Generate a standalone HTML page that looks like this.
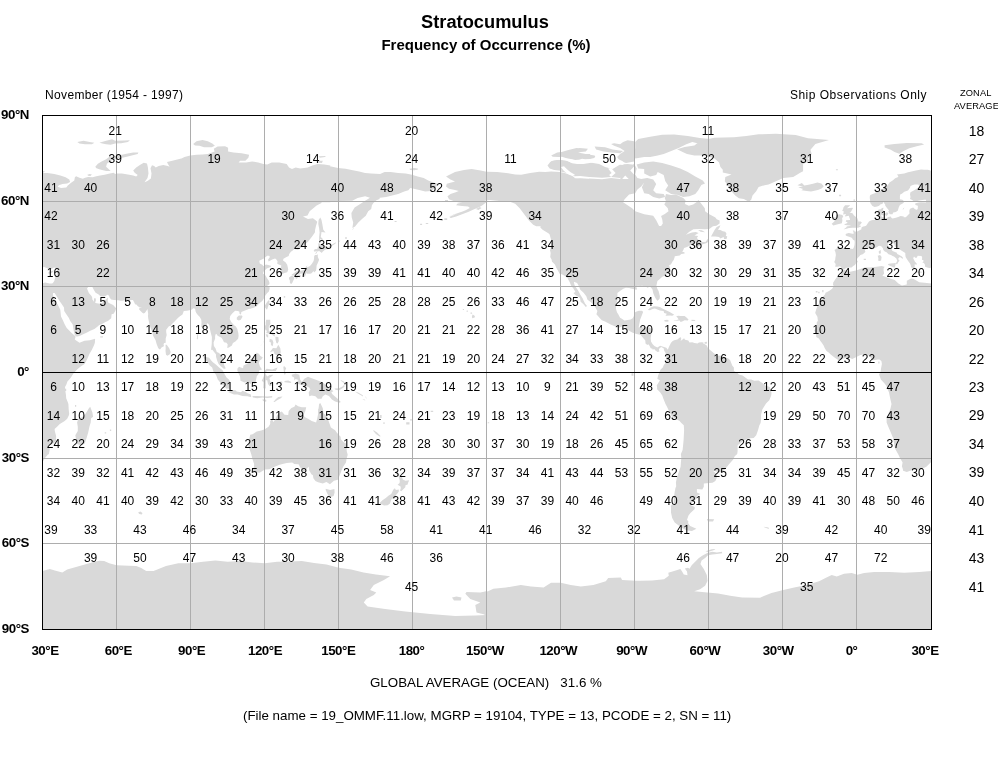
<!DOCTYPE html><html><head><meta charset="utf-8"><title>Stratocumulus</title><style>
html,body{margin:0;padding:0;background:#fff}
body{width:998px;height:760px;position:relative;overflow:hidden;font-family:"Liberation Sans",sans-serif;color:#000}
.t{position:absolute;white-space:nowrap;line-height:1}
.n{position:absolute;white-space:nowrap;line-height:12px;font-size:12px;width:40px;margin-left:-20px;text-align:center;height:12px}
.ax{position:absolute;white-space:nowrap;line-height:12px;font-size:13.3px;font-weight:bold;letter-spacing:-.45px}

</style></head><body>
<svg width="998" height="760" viewBox="0 0 998 760" style="position:absolute;left:0;top:0">
<defs><clipPath id="c"><rect x="42" y="115" width="890" height="515"/></clipPath></defs>
<g clip-path="url(#c)"><path id="land" fill="#d9d9d9" fill-rule="nonzero" d="M37.0 172.8 L43.0 172.8 L47.5 173.1 L54.3 174.0 L60.3 175.4 L65.6 177.3 L69.3 179.6 L70.1 181.9 L67.1 183.4 L62.5 184.1 L58.8 185.3 L57.7 186.8 L61.0 187.9 L66.3 187.4 L67.8 185.6 L70.8 182.9 L74.3 180.4 L74.9 177.3 L76.1 176.3 L79.4 177.8 L82.8 178.8 L85.1 177.8 L88.1 176.9 L92.6 177.2 L96.4 176.3 L100.1 175.5 L104.6 174.8 L109.9 173.6 L113.6 172.7 L115.2 173.9 L116.7 173.6 L121.9 173.6 L127.9 174.5 L133.2 175.4 L136.2 176.6 L137.7 175.1 L134.7 172.8 L133.2 170.6 L136.2 167.6 L139.9 164.9 L143.7 162.8 L147.0 163.4 L147.9 167.6 L148.5 173.6 L147.5 178.1 L144.5 182.3 L147.5 181.1 L150.9 178.4 L151.5 173.6 L150.5 168.3 L152.0 165.3 L154.2 166.1 L155.7 167.6 L158.7 166.1 L163.2 164.9 L167.8 166.1 L169.6 166.8 L167.8 163.8 L167.0 162.0 L172.3 160.8 L178.3 159.3 L184.3 157.8 L190.3 156.3 L190.3 244.2 L37.0 244.2Z M77.3 142.0 L83.6 140.8 L89.6 142.0 L94.4 142.8 L91.9 144.3 L85.1 144.3 L79.4 143.5Z M99.4 142.8 L106.1 140.8 L112.1 139.3 L115.2 140.8 L124.2 140.5 L129.9 140.2 L127.9 142.0 L121.2 143.2 L115.2 143.5 L110.6 144.7 L106.1 144.3 L102.4 143.5Z M95.3 166.8 L97.9 163.8 L101.6 161.6 L106.1 159.3 L109.1 157.1 L115.2 155.9 L121.9 154.8 L126.4 153.7 L133.2 152.5 L138.4 152.5 L137.7 154.0 L131.7 155.6 L125.7 157.1 L119.7 158.3 L113.6 159.3 L110.6 160.8 L106.9 163.8 L106.1 166.8 L109.1 169.4 L110.6 170.9 L106.1 170.9 L100.1 169.4 L96.4 168.3Z M87.3 174.8 L89.6 173.9 L91.9 174.6 L90.4 176.0 L88.1 175.8Z M178.5 160.1 L184.5 157.1 L190.2 155.6 L196.5 154.8 L202.5 154.5 L207.8 154.1 L214.6 151.4 L213.8 148.8 L217.6 146.6 L225.1 146.3 L228.1 147.8 L228.1 151.4 L233.4 152.6 L241.6 153.3 L249.1 154.8 L248.4 157.8 L245.4 160.8 L240.1 160.8 L238.6 162.4 L246.1 162.4 L252.1 161.6 L258.2 162.4 L263.4 163.9 L267.2 164.6 L271.7 162.4 L279.2 162.4 L286.7 163.9 L289.0 167.6 L292.0 169.1 L295.7 167.6 L300.2 168.4 L307.8 167.6 L312.3 165.4 L317.5 163.9 L324.3 164.6 L330.3 165.4 L330.3 202.2 L178.5 202.2Z M193.2 143.9 L196.5 141.3 L202.5 140.1 L207.8 141.3 L212.3 143.6 L214.9 145.8 L211.6 147.3 L204.0 147.3 L199.5 145.8 L195.0 145.4Z M319.0 156.3 L325.8 155.9 L325.0 157.1 L319.8 157.8Z M318.3 160.8 L322.8 160.8 L322.0 163.1 L317.5 162.8Z M318.5 164.6 L329.0 166.1 L338.0 167.9 L345.6 168.8 L351.6 169.9 L359.1 171.4 L365.1 172.9 L371.1 173.6 L380.1 173.9 L384.6 172.1 L390.6 172.1 L398.2 172.9 L405.7 173.6 L412.0 174.8 L417.7 176.6 L423.7 178.1 L428.2 180.4 L432.7 182.3 L438.0 184.1 L435.7 187.2 L431.2 190.9 L425.2 191.4 L419.2 189.9 L413.9 188.7 L410.2 187.9 L408.4 190.2 L404.2 191.4 L398.2 193.9 L392.1 195.4 L386.1 196.9 L380.1 197.7 L376.4 196.9 L374.1 199.2 L371.9 199.9 L370.8 198.0 L365.1 196.2 L357.6 198.0 L352.3 200.7 L339.5 201.0 L329.0 201.0 L318.5 201.0Z M409.4 168.8 L414.7 167.9 L418.4 168.8 L414.7 170.3 L410.2 170.0Z M446.0 176.6 L455.0 172.1 L464.0 169.9 L471.6 169.1 L480.6 170.6 L486.6 171.8 L497.1 172.1 L506.1 172.9 L515.2 174.4 L521.2 174.8 L530.2 172.9 L539.2 171.8 L545.2 172.1 L551.2 171.4 L560.2 172.1 L566.3 173.6 L572.3 175.9 L575.3 178.1 L582.8 178.9 L590.3 178.9 L590.3 226.2 L536.2 226.2 L533.2 224.7 L528.7 220.2 L524.2 214.2 L519.7 208.2 L515.2 203.7 L510.6 201.9 L503.1 201.4 L497.1 200.7 L489.6 199.9 L485.1 200.4 L482.8 202.2 L479.4 204.9 L473.1 207.4 L465.6 210.4 L456.5 213.9 L449.0 216.5 L454.3 214.2 L462.5 211.5 L470.1 208.5 L476.1 205.2 L472.3 204.0 L467.1 203.7 L462.5 202.9 L458.0 202.2 L453.5 201.0 L449.0 199.2 L447.5 196.2 L450.5 193.9 L455.0 192.4 L458.8 190.9 L455.0 189.9 L449.0 188.7 L446.0 186.4 L446.8 183.8 L451.3 182.6 L455.0 181.4 L450.5 179.6Z M547.5 165.4 L551.2 160.8 L558.7 159.8 L566.3 160.4 L570.8 162.4 L575.3 162.8 L582.8 163.9 L590.3 163.1 L590.3 176.9 L575.3 176.9 L572.3 174.4 L569.3 170.9 L563.2 170.9 L554.2 169.9 L549.7 168.4Z M551.2 155.6 L557.2 152.6 L564.7 151.4 L572.3 149.6 L579.8 148.1 L588.0 148.8 L585.8 151.4 L578.3 152.3 L575.3 154.1 L582.8 154.8 L590.3 154.1 L590.3 159.3 L582.8 159.8 L575.3 160.1 L569.3 157.8 L564.7 157.1 L558.7 157.1 L552.7 156.8Z M558.5 178.9 L569.0 179.3 L575.0 178.1 L588.6 178.4 L602.1 179.3 L611.1 178.1 L620.1 178.9 L622.4 175.1 L620.1 171.4 L624.6 168.4 L629.9 165.4 L634.2 163.9 L636.7 168.4 L635.2 174.4 L637.4 178.1 L641.2 178.9 L644.2 182.6 L641.2 186.4 L637.4 189.4 L635.2 193.2 L629.1 194.4 L624.6 199.2 L623.1 202.2 L627.6 205.2 L632.1 208.2 L635.2 211.2 L644.2 214.2 L653.2 215.7 L656.2 220.2 L659.2 226.2 L558.5 226.2Z M635.2 142.1 L638.2 139.1 L650.2 136.8 L662.2 134.8 L674.2 134.5 L687.8 136.0 L699.8 137.9 L710.3 139.1 L710.3 144.3 L701.3 144.3 L692.3 142.1 L686.3 144.3 L678.7 148.1 L671.2 151.1 L663.7 154.1 L657.7 155.6 L650.2 157.1 L644.2 157.1 L635.2 158.6 L634.2 154.1 L635.2 148.1Z M623.1 142.1 L627.6 140.3 L634.2 141.3 L634.2 161.6 L626.1 163.1 L620.1 161.6 L617.1 157.1 L620.1 154.1 L624.6 151.1 L620.1 148.1 L614.1 145.8 L611.1 143.9 L614.1 143.3 L620.1 144.3Z M560.0 152.6 L567.5 150.3 L576.5 148.1 L585.6 148.8 L584.0 151.4 L578.0 152.6 L585.6 154.1 L594.6 155.6 L596.1 158.6 L590.1 160.1 L581.0 159.3 L573.5 160.1 L566.0 158.6 L560.0 157.1Z M594.6 146.6 L605.1 147.3 L612.6 149.6 L623.1 151.1 L620.1 153.3 L611.1 152.6 L603.6 151.4 L596.1 149.6Z M560.0 161.6 L569.0 163.1 L578.0 163.9 L590.1 162.4 L599.1 163.9 L605.1 166.9 L612.6 169.1 L620.1 164.6 L627.6 163.9 L632.1 164.6 L630.6 172.1 L624.6 175.1 L620.1 178.1 L611.1 176.9 L602.1 177.8 L590.1 176.9 L588.6 175.9 L575.0 175.9 L569.0 173.6 L563.0 172.1 L560.0 171.4Z M636.7 164.6 L644.2 162.4 L653.2 161.6 L662.2 163.1 L671.2 165.4 L680.2 168.4 L687.8 172.1 L695.3 176.6 L702.8 180.4 L705.0 183.4 L701.3 184.9 L698.3 190.2 L695.3 193.9 L689.3 196.2 L683.2 196.9 L677.2 194.7 L671.2 193.9 L665.2 190.2 L668.2 185.6 L665.2 181.1 L663.7 175.1 L657.7 172.1 L656.2 175.1 L650.2 176.6 L644.2 173.6 L644.2 169.1 L638.2 168.4Z M641.2 178.9 L647.2 178.1 L653.2 179.6 L656.2 184.1 L653.2 190.2 L656.2 193.2 L663.7 193.9 L665.2 196.9 L659.2 198.4 L653.2 196.9 L648.7 193.9 L644.2 193.2 L641.9 187.2 L644.2 182.6Z M487.6 201.9 L485.4 202.9 L482.4 205.3 L479.4 207.1 L474.1 209.2 L468.1 211.9 L462.1 214.3 L456.1 216.4 L450.8 217.9 L449.3 217.0 L453.1 215.5 L459.1 213.1 L465.1 210.4 L469.9 208.0 L468.1 206.5 L462.1 205.9 L456.1 205.3 L457.6 203.5 L463.6 202.6 L469.6 202.3 L475.6 202.3 L483.1 201.6 L486.9 200.4Z M42.5 195.5 L321.5 195.5 L321.5 202.9 L316.6 205.4 L309.7 211.2 L307.5 215.4 L303.0 216.6 L308.0 218.9 L312.9 218.3 L315.9 220.6 L317.3 221.7 L316.1 225.4 L315.1 229.7 L314.9 232.6 L311.7 236.9 L308.0 241.7 L303.0 246.0 L298.1 249.7 L294.4 249.1 L292.7 250.6 L290.9 251.7 L289.2 254.0 L288.7 256.0 L286.5 256.9 L283.5 258.8 L283.0 260.6 L285.5 262.3 L287.2 264.8 L288.0 268.3 L288.2 269.7 L287.2 272.3 L284.5 273.1 L280.8 274.6 L280.3 273.1 L280.8 270.3 L280.8 267.7 L281.3 265.4 L278.8 264.6 L277.1 263.4 L277.6 261.4 L276.4 259.4 L275.1 258.6 L272.2 259.4 L268.7 261.4 L268.0 259.7 L269.9 256.9 L269.2 255.7 L267.2 255.7 L263.8 258.6 L259.3 260.8 L259.8 263.4 L262.3 264.8 L263.5 266.3 L266.0 264.6 L268.2 265.1 L270.9 265.7 L270.7 267.1 L266.7 268.6 L265.5 269.7 L263.5 271.7 L263.0 273.4 L265.5 275.4 L267.0 278.3 L268.7 280.6 L269.4 282.6 L269.4 284.3 L267.2 285.7 L268.7 286.8 L269.7 287.4 L269.4 289.7 L268.7 291.7 L267.2 293.1 L265.2 295.7 L264.0 298.3 L262.3 301.1 L260.3 302.5 L257.3 305.4 L256.1 306.8 L253.6 307.7 L250.4 308.8 L248.7 309.1 L245.0 310.5 L242.5 311.4 L241.3 312.0 L241.0 314.5 L239.6 314.0 L239.3 311.4 L237.6 311.1 L235.1 310.8 L232.2 313.4 L230.2 316.0 L229.7 319.1 L231.4 322.2 L234.4 325.4 L235.9 326.5 L237.3 329.1 L238.3 333.1 L238.6 335.9 L238.1 338.8 L235.4 341.4 L232.9 343.1 L231.9 345.4 L228.9 347.4 L227.2 347.9 L227.7 344.5 L226.5 342.8 L224.0 342.2 L222.8 339.7 L221.5 337.7 L219.1 336.5 L217.6 335.7 L216.6 334.0 L215.4 334.5 L215.1 336.8 L215.1 338.8 L213.6 342.5 L213.9 345.9 L215.6 348.5 L216.8 351.9 L218.6 352.8 L221.0 354.8 L223.3 357.4 L223.8 361.6 L224.0 364.8 L225.7 368.2 L225.0 368.8 L223.8 368.8 L220.8 366.2 L218.6 363.9 L217.3 361.1 L216.1 357.1 L215.9 354.2 L213.9 351.7 L212.4 349.7 L211.2 349.9 L211.2 348.2 L211.7 344.2 L211.9 337.1 L210.7 332.5 L209.9 329.1 L209.4 325.4 L207.7 323.1 L206.2 325.4 L203.8 327.4 L201.3 327.1 L201.5 322.5 L201.3 319.7 L199.8 317.1 L197.8 315.1 L196.3 313.1 L195.6 311.4 L195.1 308.8 L193.1 308.2 L192.1 309.4 L189.4 310.2 L187.0 310.8 L183.8 311.1 L182.5 314.5 L180.3 316.0 L178.1 317.7 L174.1 322.0 L171.7 324.2 L170.9 325.7 L168.9 326.2 L167.9 327.4 L166.2 329.7 L166.2 332.0 L166.7 335.1 L165.7 338.5 L165.7 341.7 L165.5 343.1 L164.0 343.1 L163.5 345.1 L164.2 345.9 L161.5 347.4 L160.5 349.1 L159.8 349.4 L158.3 348.2 L156.6 343.9 L155.6 340.2 L153.1 335.7 L152.1 331.7 L150.7 328.2 L149.4 324.0 L148.2 318.2 L147.9 315.4 L148.2 314.2 L147.9 312.2 L147.5 309.1 L146.7 310.2 L145.0 312.8 L143.7 313.4 L142.3 312.8 L140.3 310.8 L138.8 309.1 L139.5 308.2 L142.0 307.1 L139.8 307.4 L137.6 306.0 L136.8 304.8 L135.1 304.3 L133.9 301.7 L132.9 300.0 L128.9 300.3 L125.2 300.3 L122.3 300.8 L120.8 300.8 L118.1 300.3 L114.1 300.0 L111.2 299.4 L109.7 297.7 L108.9 295.4 L107.4 294.8 L105.5 296.0 L104.0 296.5 L100.5 296.3 L98.3 294.3 L95.6 292.8 L93.9 290.0 L92.4 287.1 L90.7 286.5 L89.4 285.7 L88.2 287.1 L87.0 288.5 L87.9 290.8 L88.9 293.1 L91.1 295.4 L92.1 297.1 L92.4 299.4 L93.9 301.7 L93.9 299.7 L94.4 298.0 L95.8 298.5 L95.8 301.1 L95.1 302.3 L95.6 303.1 L98.1 303.4 L100.5 303.7 L102.8 302.5 L105.0 300.3 L106.7 298.8 L107.4 297.4 L107.9 298.3 L107.7 301.1 L108.4 302.8 L113.1 305.1 L116.1 308.2 L115.3 311.1 L113.6 313.7 L111.6 314.2 L111.2 318.2 L107.9 321.1 L105.5 322.0 L102.0 324.0 L99.3 325.1 L97.3 326.8 L94.4 329.1 L89.7 331.1 L87.0 332.5 L83.2 334.2 L79.5 335.9 L77.1 336.5 L75.8 336.2 L74.6 334.5 L73.6 330.2 L73.1 326.8 L72.6 324.2 L70.2 321.1 L68.9 318.0 L66.5 314.5 L64.2 311.1 L64.0 307.4 L61.5 303.7 L59.5 301.1 L57.6 297.7 L55.3 294.0 L54.1 292.3 L52.9 290.8 L51.1 286.8 L47.9 283.1 L49.9 283.7 L51.9 283.7 L53.1 282.8 L54.4 280.8 L54.8 278.8 L56.1 275.7 L56.8 274.0 L56.8 271.1 L57.8 268.0 L56.1 268.0 L53.9 267.4 L51.6 269.1 L49.4 269.7 L47.4 268.3 L44.2 267.1 L40.3 268.0 L38.3 267.4 L36.1 266.8 L35.8 264.3 L34.6 262.8 L33.4 263.1 L34.6 261.1 L34.4 260.3 L32.9 259.7 L33.1 258.3 L33.1 257.1 L32.4 256.0 L28.7 255.7 L27.7 257.7 L26.2 257.7 L25.0 256.6 L24.2 258.3 L25.2 260.3 L26.0 261.7 L27.7 263.4 L27.7 264.8 L25.7 264.3 L25.7 265.7 L25.5 268.3 L24.0 268.3 L22.7 267.4 L22.0 267.4 L21.8 265.4 L21.0 263.4 L19.5 261.4 L18.3 259.7 L16.6 256.9 L16.3 254.6 L16.3 252.9 L13.1 250.9 L8.9 248.3 L6.0 246.6 L5.2 244.0 L4.0 243.1 L2.5 244.3 L2.0 242.6 L2.5 242.0 L-1.2 242.9 L-1.0 244.3 L-1.2 245.7 L-0.5 246.6 L1.8 248.0 L3.5 251.1 L8.4 252.9 L7.7 253.7 L10.2 255.1 L12.9 256.6 L14.1 258.0 L13.9 258.8 L12.9 258.3 L10.9 256.9 L9.4 258.3 L9.4 259.4 L10.6 260.8 L9.4 262.0 L8.2 264.3 L6.9 264.0 L7.4 262.3 L8.2 261.1 L7.4 258.6 L5.0 256.6 L3.5 256.0 L2.0 254.9 L-0.5 254.3 L-2.4 252.3 L-4.2 251.4 L-5.7 250.0 L-6.1 248.3 L-7.4 246.6 L-9.6 245.7 L-10.6 246.0 L-11.8 247.1 L-13.6 247.7 L-17.0 249.4 L-18.2 248.9 L-20.5 248.6 L-22.0 248.3 L-23.9 249.7 L-24.2 250.9 L-23.4 251.7 L-26.2 254.3 L-28.6 255.1 L-29.6 256.3 L-31.6 258.3 L-32.3 259.7 L-31.1 262.0 L-32.8 263.1 L-34.1 265.1 L-35.8 266.0 L-37.5 267.4 L-42.4 267.7 L-44.9 269.4 L-45.4 269.7 L-47.1 268.3 L-48.9 266.3 L-51.1 266.8 L-53.8 266.8 L-53.3 264.0 L-54.8 262.0 L-53.8 259.7 L-53.6 257.7 L-53.1 254.9 L-53.6 252.0 L-54.5 250.0 L-52.3 248.6 L-51.1 247.4 L-45.7 248.0 L-41.0 248.3 L-39.0 248.6 L-36.5 248.9 L-35.5 248.3 L-34.5 245.1 L-34.3 242.3 L-34.5 240.6 L-36.0 239.7 L-37.0 238.0 L-37.8 237.4 L-39.2 236.9 L-42.2 236.0 L-43.2 235.4 L-43.4 234.3 L-42.9 233.7 L-40.2 233.1 L-36.5 233.7 L-35.3 233.7 L-35.5 232.0 L-36.3 230.6 L-34.8 230.6 L-34.3 231.4 L-32.3 231.7 L-31.3 231.2 L-28.9 230.0 L-27.6 229.2 L-27.6 227.7 L-26.9 226.9 L-25.7 226.6 L-24.4 226.3 L-22.9 225.7 L-22.0 224.6 L-21.7 224.0 L-20.0 221.4 L-18.2 220.6 L-16.3 220.0 L-14.3 220.0 L-11.8 219.4 L-10.6 219.4 L-10.1 218.6 L-9.6 218.0 L-10.3 217.2 L-10.3 215.7 L-10.8 214.0 L-11.6 212.6 L-11.6 210.9 L-10.3 209.4 L-8.1 209.2 L-7.1 208.0 L-5.4 207.7 L-5.7 208.6 L-6.1 210.0 L-4.7 211.4 L-6.4 212.3 L-7.1 214.3 L-7.9 216.0 L-6.4 217.2 L-4.4 217.2 L-4.7 218.6 L-3.4 218.3 L-1.7 217.7 L-0.7 216.9 L1.8 216.6 L2.5 218.0 L3.7 218.6 L6.9 217.7 L9.2 216.9 L11.6 216.0 L14.8 216.6 L14.6 217.2 L16.8 217.2 L17.8 216.3 L20.5 213.4 L20.3 211.2 L20.5 209.7 L21.5 208.6 L24.2 207.4 L25.7 208.9 L27.2 209.7 L27.9 209.7 L28.7 208.9 L28.9 205.7 L26.4 204.9 L26.2 203.5 L27.7 202.9 L29.7 202.6 L32.1 202.3 L37.6 202.6 L38.5 202.0 L42.5 201.5 L39.3 199.2 L35.1 199.7 L30.2 200.6 L25.2 201.7 L23.2 200.0 L21.0 198.9 L21.5 196.9 L21.0 194.3 L21.5 192.3 L25.2 190.3 L28.9 187.7 L31.1 186.9 L29.2 184.6 L27.9 184.6 L25.5 184.6 L23.2 185.2 L21.5 186.0 L21.0 187.7 L19.0 190.6 L15.3 191.7 L12.9 193.7 L11.4 194.3 L10.9 196.3 L10.9 199.2 L13.4 199.7 L15.1 201.2 L15.1 202.0 L14.1 203.2 L10.9 204.9 L9.7 207.4 L8.9 210.6 L6.9 212.0 L4.2 212.6 L3.5 214.3 L2.5 214.3 L1.0 214.3 L0.5 213.7 L-0.2 212.6 L-0.7 211.7 L0.0 210.6 L-2.2 207.7 L-3.7 205.7 L-3.9 204.3 L-4.7 203.5 L-5.2 201.5 L-5.9 202.9 L-6.9 204.0 L-8.4 204.3 L-9.9 205.7 L-11.8 206.6 L-14.3 206.9 L-15.5 206.6 L-16.8 205.7 L-17.8 204.3 L-18.7 202.9 L-19.0 200.0 L-19.2 198.3 L-19.2 196.6 L-18.7 194.9 L-16.3 194.0 L-14.3 193.2 L-12.6 192.3 L-10.6 191.5 L-8.1 190.6 L-5.7 188.6 L-3.9 187.2 L-1.5 185.5 L-0.5 184.0 L0.5 182.6 L4.0 180.3 L6.2 178.3 L9.2 176.9 L9.2 176.0 L7.9 174.6 L11.6 174.0 L15.3 173.5 L19.0 172.3 L21.5 171.8 L26.9 170.6 L32.1 169.5 L35.1 169.8 L38.8 169.8 L45.0 171.5 L42.5 173.2 L45.0 173.5 L45.0 195.5Z M55.8 283.4 L55.8 292.5 L53.1 293.1 L52.9 294.8 L54.1 298.3 L55.6 302.5 L57.6 304.3 L60.3 309.7 L61.0 316.5 L63.0 320.5 L64.5 324.0 L66.7 328.0 L69.2 330.5 L71.6 333.1 L74.6 335.4 L75.6 336.8 L74.8 339.4 L75.8 340.2 L79.5 342.8 L84.5 340.8 L89.9 340.2 L95.1 338.8 L94.9 342.8 L93.9 345.4 L91.9 349.7 L89.4 353.9 L87.0 359.6 L84.5 363.9 L80.3 366.8 L77.1 369.6 L73.4 373.6 L70.9 377.4 L69.7 379.1 L67.4 381.6 L66.5 384.2 L65.0 387.1 L65.5 391.9 L66.0 395.3 L66.2 398.2 L67.7 401.9 L68.4 403.9 L68.7 409.6 L69.2 413.9 L68.9 415.3 L67.2 418.8 L64.7 421.0 L59.8 423.9 L57.3 426.5 L54.6 429.0 L54.8 431.0 L55.6 433.9 L56.1 435.9 L56.1 439.6 L56.1 441.0 L53.6 443.3 L49.9 444.7 L48.9 446.7 L49.7 449.6 L48.9 453.9 L47.7 454.7 L45.0 457.9 L43.2 461.0 L37.3 466.7 L31.6 469.6 L27.7 469.9 L23.2 469.9 L17.8 471.9 L14.1 470.7 L13.9 469.3 L12.9 466.2 L13.6 462.4 L11.1 458.2 L9.2 454.2 L6.0 448.5 L5.2 443.9 L4.2 438.2 L1.8 432.5 L-0.7 426.8 L-2.4 422.5 L-2.4 418.2 L-1.5 415.9 L1.5 408.5 L2.5 403.9 L1.0 397.6 L0.0 392.5 L-1.2 389.6 L-1.5 388.2 L-2.4 386.2 L-4.4 383.4 L-8.1 379.6 L-9.9 374.5 L-8.4 371.4 L-7.9 368.2 L-7.4 365.4 L-7.1 363.9 L-7.6 361.1 L-9.6 359.6 L-11.1 359.6 L-14.3 359.9 L-16.8 360.2 L-18.2 357.7 L-19.2 355.9 L-23.2 354.2 L-25.7 354.5 L-28.6 355.1 L-32.1 356.8 L-36.8 359.1 L-39.0 357.9 L-41.5 357.7 L-46.4 358.8 L-50.6 359.9 L-53.8 357.9 L-58.3 354.5 L-60.0 352.8 L-62.5 351.1 L-64.2 348.2 L-65.4 345.4 L-67.4 342.5 L-68.6 341.1 L-70.1 338.5 L-72.8 337.1 L-72.8 334.0 L-74.8 330.5 L-72.3 326.8 L-72.3 322.5 L-71.1 320.8 L-71.6 316.8 L-73.8 313.1 L-73.3 311.1 L-71.1 304.8 L-68.6 301.7 L-67.4 298.0 L-64.2 294.8 L-63.4 292.8 L-60.0 291.1 L-56.8 288.8 L-55.3 285.7 L-56.0 285.1 L-55.8 282.6 L-54.3 280.3 L-52.6 277.7 L-50.4 276.6 L-48.4 275.4 L-46.9 272.6 L-46.2 270.3 L-44.7 270.0 L-39.0 271.7 L-33.1 270.6 L-24.2 267.4 L-19.2 267.4 L-12.3 266.8 L-7.4 266.0 L-4.4 266.8 L-5.4 268.6 L-5.4 270.3 L-4.9 273.4 L-6.6 275.7 L-4.4 276.6 L1.0 278.6 L5.7 280.0 L9.4 283.4 L12.9 285.4 L17.8 284.5 L17.8 280.8 L22.0 278.6 L24.2 278.8 L27.7 280.8 L30.2 282.3 L35.6 282.8 L42.3 283.4 L45.0 282.6 L49.4 283.4Z M90.2 406.8 L92.4 412.5 L93.1 416.8 L91.1 418.2 L90.7 422.5 L89.4 426.8 L88.2 432.5 L86.5 438.2 L84.7 443.6 L80.8 445.3 L77.1 443.9 L76.1 439.6 L75.3 435.3 L77.8 431.0 L77.8 426.8 L77.1 422.5 L78.3 418.8 L82.0 417.3 L84.5 415.3 L87.0 411.6 L88.9 408.2Z M-45.2 229.2 L-43.9 228.3 L-42.7 227.4 L-42.7 226.9 L-41.7 226.3 L-39.0 226.0 L-38.3 225.2 L-39.5 225.4 L-41.5 225.2 L-44.2 224.9 L-44.7 224.3 L-43.2 223.7 L-41.7 222.9 L-41.7 222.0 L-43.2 221.7 L-42.9 220.3 L-39.0 220.0 L-39.0 218.9 L-39.5 218.0 L-40.2 215.7 L-41.5 216.0 L-43.7 216.6 L-43.9 215.7 L-42.9 214.0 L-45.9 214.6 L-45.2 211.4 L-46.9 210.6 L-45.7 208.9 L-45.9 208.0 L-44.7 206.3 L-43.9 205.2 L-39.0 205.2 L-39.2 205.7 L-41.0 207.2 L-42.0 208.3 L-36.5 207.7 L-36.0 208.3 L-36.8 209.4 L-38.0 211.7 L-39.5 212.6 L-36.5 213.2 L-35.0 215.4 L-33.1 216.9 L-31.8 218.0 L-31.3 219.4 L-30.8 220.6 L-30.8 221.4 L-28.4 221.4 L-27.1 222.6 L-28.4 224.3 L-29.9 225.4 L-28.1 225.7 L-28.1 226.6 L-30.8 227.7 L-33.6 227.7 L-36.3 227.7 L-40.0 228.0 L-41.7 228.6 L-45.7 229.4Z M-49.9 214.3 L-46.6 214.9 L-45.7 216.6 L-46.9 218.3 L-46.6 220.3 L-47.1 223.2 L-52.1 224.6 L-55.8 225.4 L-57.3 223.7 L-55.5 222.3 L-53.8 220.6 L-56.8 219.7 L-56.3 217.4 L-52.8 217.4 L-53.1 216.3 L-52.1 214.9Z M-91.6 185.2 L-87.1 182.9 L-84.7 185.5 L-81.7 184.9 L-76.0 183.7 L-71.6 182.6 L-67.6 183.5 L-65.2 186.3 L-67.4 188.6 L-71.1 190.0 L-78.0 191.5 L-82.2 190.9 L-87.6 190.3 L-85.9 188.9 L-90.8 187.2 L-85.9 186.6Z M-3.9 213.4 L-2.0 212.3 L-0.5 213.4 L-1.5 214.9 L-2.4 216.0 L-3.9 214.9Z M-7.4 214.0 L-5.2 214.0 L-4.9 215.2 L-6.6 215.2Z M-1.0 264.0 L1.3 263.4 L6.9 263.1 L6.0 266.8 L5.5 267.7 L3.7 267.1 L-0.7 265.1Z M-11.3 255.7 L-8.9 254.9 L-7.4 256.9 L-7.9 260.6 L-9.4 261.1 L-10.8 260.8 L-10.6 258.3Z M-10.3 251.4 L-8.4 249.7 L-8.1 252.6 L-8.9 254.3 L-10.1 253.1Z M26.4 270.8 L28.9 271.4 L33.4 271.7 L33.1 272.6 L29.4 272.8 L26.4 272.0Z M48.2 272.6 L49.9 271.4 L53.9 270.6 L52.4 272.6 L49.9 273.7 L48.4 273.4Z M-4.4 145.2 L5.5 144.1 L17.8 142.9 L32.6 143.2 L35.1 144.6 L27.7 146.3 L20.3 148.3 L14.1 151.2 L10.4 153.8 L5.5 152.1 L1.8 149.8 L-4.4 147.5Z M320.3 217.4 L321.5 220.0 L322.3 224.0 L323.3 229.7 L325.5 232.6 L321.5 232.0 L320.8 236.9 L322.8 238.9 L322.5 240.6 L320.6 239.1 L319.1 241.1 L319.1 236.9 L319.6 232.6 L319.1 228.3 L318.3 224.0 L318.6 220.0Z M314.9 254.0 L317.1 253.1 L316.4 251.1 L314.9 251.7 L313.6 250.9 L314.9 248.9 L317.3 248.9 L318.3 245.4 L318.3 242.9 L320.3 244.0 L323.5 246.3 L327.2 246.0 L327.0 248.3 L328.5 248.9 L325.0 249.7 L322.3 252.0 L322.0 252.9 L319.1 251.1 L316.6 251.7Z M317.8 254.3 L317.8 256.9 L319.1 259.7 L317.8 263.1 L316.6 265.4 L316.4 268.3 L316.1 270.6 L314.1 272.6 L313.6 271.1 L312.2 272.6 L311.2 273.4 L309.7 273.7 L306.7 273.7 L306.5 272.6 L305.7 274.6 L305.0 276.6 L303.8 276.8 L302.0 274.8 L302.5 273.4 L299.3 273.7 L296.9 274.6 L295.1 275.4 L291.9 275.4 L291.7 274.6 L293.1 273.7 L296.1 271.4 L297.6 270.8 L300.1 270.8 L302.5 270.6 L304.3 269.7 L306.0 266.8 L307.5 265.4 L306.7 267.4 L309.7 266.3 L311.7 264.0 L313.6 261.1 L314.1 258.3 L314.1 256.6 L314.9 254.9 L316.6 254.9Z M295.6 275.4 L299.3 274.3 L301.1 276.0 L299.8 277.4 L298.1 276.8 L296.9 279.1 L295.4 278.3 L295.1 276.8Z M291.7 275.7 L293.6 276.6 L294.4 278.3 L293.1 281.1 L292.2 283.1 L291.2 284.0 L289.9 283.1 L289.9 280.6 L289.0 279.1 L289.0 277.4 L290.4 276.6Z M268.5 300.3 L269.7 301.1 L268.5 305.4 L267.0 309.7 L265.2 307.7 L265.0 305.4 L266.7 302.5Z M236.8 317.4 L238.8 315.4 L242.0 315.4 L242.5 316.8 L240.8 319.7 L238.8 320.5 L236.8 319.4Z M165.5 344.8 L166.7 344.8 L169.2 348.2 L170.7 351.9 L169.9 354.2 L167.5 355.7 L166.0 354.8 L165.5 351.1 L165.7 348.2Z M266.2 319.7 L270.2 319.7 L270.4 324.0 L268.7 326.8 L268.9 331.1 L270.9 332.0 L274.4 333.1 L274.9 336.5 L272.9 335.4 L270.9 333.7 L268.5 333.4 L266.2 333.1 L267.0 330.8 L265.5 330.2 L264.5 326.2 L265.7 325.1 L265.7 322.5Z M269.7 352.5 L272.9 347.9 L276.4 348.2 L278.3 344.8 L280.3 348.2 L280.8 352.5 L279.6 354.5 L278.1 356.5 L277.1 355.4 L274.6 353.9 L273.4 351.1Z M275.4 336.8 L278.3 337.1 L278.8 341.1 L277.6 343.4 L276.4 343.1 L275.6 339.9Z M269.7 338.8 L272.4 339.7 L273.4 342.5 L272.7 346.2 L270.9 345.1 L270.9 342.5 L269.4 341.7Z M259.8 346.8 L262.8 343.1 L264.0 340.2 L263.5 341.9 L261.0 345.4 L257.8 348.5Z M265.7 334.2 L268.2 334.5 L268.2 337.4 L266.7 337.1Z M203.8 356.5 L209.2 357.7 L211.2 360.5 L212.6 361.9 L216.1 364.8 L219.1 367.6 L222.8 370.5 L224.5 373.9 L226.5 377.4 L228.9 379.6 L230.2 381.9 L229.7 385.4 L229.7 389.1 L228.4 388.5 L226.5 388.8 L224.0 386.2 L221.0 383.4 L217.8 379.6 L216.1 375.1 L213.4 371.6 L212.2 367.6 L209.7 365.4 L207.5 361.9 L205.7 360.5 L203.8 357.7Z M228.2 391.9 L232.2 389.9 L235.9 390.5 L236.6 391.6 L241.0 392.2 L242.5 390.8 L246.2 392.2 L247.0 393.1 L250.9 394.5 L251.2 397.3 L247.5 396.2 L242.5 395.9 L237.6 394.5 L233.9 394.5 L230.9 393.3Z M252.4 395.9 L257.3 395.9 L262.3 396.2 L267.2 396.5 L272.2 395.9 L272.2 397.6 L267.2 397.9 L262.3 397.6 L257.3 398.2 L252.9 397.6Z M273.4 401.9 L275.9 399.1 L278.3 397.1 L282.5 396.5 L280.8 398.2 L277.1 400.2 L274.6 401.9Z M262.3 399.6 L265.2 399.3 L266.7 401.1 L264.8 401.9 L262.8 400.5Z M239.1 366.8 L240.8 367.6 L243.0 368.2 L243.5 365.4 L247.5 363.4 L249.9 359.6 L252.4 358.2 L254.9 355.4 L256.8 352.5 L259.1 353.9 L260.1 355.7 L262.8 357.4 L261.3 359.6 L259.6 360.5 L258.8 363.1 L259.8 366.2 L262.0 369.6 L259.3 370.2 L258.6 373.9 L256.8 376.2 L256.1 379.6 L255.6 382.5 L254.9 383.9 L251.4 382.5 L251.2 384.2 L247.5 381.9 L244.5 382.5 L240.5 380.8 L240.1 376.8 L238.1 372.5 L237.3 370.2 L237.6 368.2Z M266.7 368.8 L272.2 369.6 L277.6 367.6 L275.9 371.1 L272.2 371.1 L267.2 371.1 L265.0 372.5 L266.5 375.4 L267.2 376.5 L269.7 375.1 L273.1 374.8 L272.7 375.4 L269.4 377.9 L270.2 381.1 L270.9 382.5 L271.7 385.4 L269.7 386.2 L268.0 383.9 L267.2 380.2 L265.7 380.2 L265.7 383.9 L265.7 388.5 L263.3 388.2 L263.5 382.5 L261.8 380.5 L263.0 378.2 L264.3 374.8 L264.3 371.1 L264.8 370.5Z M283.3 366.8 L284.5 366.2 L286.2 368.2 L285.0 371.1 L285.7 373.9 L284.3 374.8 L283.8 371.1Z M284.5 381.1 L288.2 380.5 L291.4 381.9 L290.7 383.1 L287.0 382.5 L284.5 382.2Z M279.6 381.6 L282.0 381.4 L282.5 382.8 L280.8 383.4 L279.6 382.5Z M291.7 374.8 L295.6 373.6 L299.3 374.8 L300.1 379.6 L301.8 381.9 L304.3 378.8 L308.0 376.8 L311.7 378.2 L316.6 379.9 L320.3 381.6 L324.0 383.4 L328.5 387.3 L331.4 389.6 L333.4 391.3 L331.4 392.2 L332.2 393.9 L334.4 395.9 L337.1 398.2 L340.8 401.9 L339.3 402.8 L335.1 401.6 L331.9 399.6 L329.0 395.9 L325.3 394.5 L322.8 396.2 L321.5 398.8 L317.8 398.8 L315.4 396.2 L311.7 395.6 L309.2 396.2 L308.7 392.5 L310.4 389.6 L309.2 387.6 L305.5 385.9 L301.8 385.1 L298.1 383.9 L296.4 384.2 L296.6 381.9 L298.6 379.9 L295.6 379.1 L294.4 380.5 L294.1 377.4 L291.9 376.2Z M334.6 388.5 L338.8 388.2 L342.5 386.5 L344.3 384.5 L344.5 386.8 L341.3 389.1 L338.8 390.5 L335.1 389.6Z M340.8 379.9 L343.8 381.6 L346.2 384.5 L345.7 385.6 L343.3 382.5 L340.8 380.8Z M320.3 403.1 L322.8 408.2 L323.5 413.3 L327.2 416.8 L328.5 420.8 L330.9 427.6 L335.1 430.2 L336.9 432.8 L340.6 436.8 L340.8 439.3 L343.5 441.9 L346.7 443.9 L346.7 451.0 L347.7 454.7 L346.5 459.0 L346.0 462.4 L343.3 466.4 L342.0 469.3 L340.8 472.4 L339.1 476.7 L338.8 479.6 L333.9 480.7 L329.9 484.2 L326.5 481.9 L325.7 482.2 L322.8 483.6 L318.1 482.2 L315.4 481.0 L313.4 478.2 L312.9 475.3 L311.4 474.2 L310.4 472.4 L309.2 470.4 L308.7 466.7 L306.7 468.7 L304.3 471.6 L304.0 472.2 L301.8 469.6 L299.8 466.7 L298.6 464.2 L294.4 463.9 L292.2 462.4 L286.7 463.0 L279.6 464.7 L274.6 466.7 L269.4 469.3 L264.8 469.6 L259.6 472.7 L254.9 472.2 L252.6 470.7 L252.4 468.4 L253.9 467.6 L254.1 463.9 L252.6 459.6 L251.4 454.7 L250.2 451.0 L248.5 446.7 L248.5 442.5 L250.2 434.8 L252.6 434.2 L256.8 431.6 L261.3 430.5 L264.8 429.3 L268.5 426.8 L270.2 423.9 L270.2 421.0 L271.9 419.3 L273.6 421.9 L275.9 418.2 L277.1 415.3 L279.6 412.5 L281.8 411.6 L284.5 414.8 L288.2 415.0 L288.7 411.1 L291.4 407.9 L294.4 406.8 L295.6 404.5 L298.1 406.2 L301.8 407.3 L306.2 407.3 L305.5 410.5 L304.0 413.9 L302.8 415.3 L305.5 417.6 L308.5 419.0 L311.7 421.0 L316.1 422.5 L317.3 418.2 L318.1 413.9 L318.1 409.6 L318.6 408.2 L319.1 403.9Z M325.7 488.7 L330.2 489.9 L334.4 489.0 L334.6 492.4 L333.6 495.9 L330.9 497.0 L328.7 496.1 L327.0 493.0 L325.7 490.1Z M394.9 470.7 L396.9 472.4 L399.3 474.4 L400.3 477.6 L401.8 476.7 L402.8 479.6 L405.5 480.7 L409.2 480.2 L408.0 483.0 L407.7 484.4 L405.5 485.3 L405.3 487.3 L401.3 491.3 L400.1 490.4 L400.8 488.2 L400.6 486.4 L397.6 484.7 L399.6 483.0 L399.8 480.7 L399.1 478.2 L398.6 476.4 L396.4 473.3Z M394.9 488.2 L395.9 490.1 L398.8 489.6 L398.8 491.6 L397.4 493.6 L395.6 495.3 L395.9 497.6 L393.9 497.9 L391.4 499.3 L390.7 501.3 L390.0 503.6 L387.7 505.3 L384.0 505.6 L382.0 504.4 L379.8 504.4 L379.8 502.7 L382.8 499.9 L385.8 497.9 L388.7 495.6 L391.2 493.9 L392.2 491.9 L393.4 489.6Z M373.4 429.9 L377.1 432.5 L380.8 436.2 L379.6 436.5 L375.9 433.9 L373.4 431.0Z M-234.1 225.2 L-230.4 226.0 L-227.9 226.0 L-226.2 223.4 L-226.7 219.7 L-227.9 216.0 L-224.2 214.0 L-220.5 211.2 L-221.2 208.3 L-224.7 204.6 L-223.0 201.2 L-224.2 198.3 L-223.0 194.0 L-218.0 194.9 L-213.1 194.6 L-209.4 196.3 L-205.7 198.0 L-203.5 200.3 L-204.0 204.0 L-200.2 205.7 L-195.8 204.6 L-192.6 202.3 L-190.6 200.0 L-186.7 204.9 L-184.2 208.3 L-183.9 211.2 L-180.2 214.0 L-177.3 215.4 L-173.6 217.4 L-172.3 219.2 L-169.4 220.6 L-169.4 223.4 L-172.6 225.7 L-176.0 226.3 L-179.8 228.9 L-184.2 229.2 L-189.6 228.9 L-195.6 229.2 L-200.0 232.0 L-203.2 235.1 L-200.7 233.7 L-197.0 232.6 L-193.3 232.0 L-190.4 233.1 L-194.6 235.4 L-190.9 236.0 L-192.1 238.0 L-189.6 240.9 L-186.4 242.0 L-183.5 242.0 L-180.7 238.3 L-179.8 241.1 L-182.2 243.1 L-188.6 245.1 L-193.6 248.6 L-194.8 247.4 L-193.3 244.9 L-190.9 241.7 L-194.6 243.4 L-197.0 244.6 L-200.0 246.0 L-202.0 246.9 L-204.9 248.0 L-205.9 250.6 L-206.9 251.4 L-204.4 252.6 L-204.4 253.4 L-207.7 254.0 L-209.4 255.4 L-214.3 256.3 L-214.3 257.1 L-215.3 260.0 L-216.5 261.4 L-217.0 262.6 L-218.0 264.3 L-220.0 265.4 L-219.3 267.1 L-218.5 269.7 L-218.0 272.0 L-220.5 273.7 L-221.7 273.4 L-224.2 275.7 L-226.7 276.8 L-228.9 278.8 L-231.6 281.1 L-232.6 285.7 L-231.6 289.1 L-230.4 291.1 L-229.1 296.3 L-229.4 298.8 L-231.4 300.8 L-232.1 300.3 L-233.6 298.0 L-234.6 296.0 L-235.8 293.1 L-236.5 289.4 L-237.0 288.8 L-239.0 286.5 L-241.5 287.7 L-243.2 286.5 L-246.9 285.7 L-248.9 286.0 L-251.4 285.7 L-252.6 286.8 L-251.9 289.4 L-253.8 289.4 L-257.0 288.8 L-260.0 288.0 L-263.2 287.7 L-265.7 288.8 L-268.7 290.8 L-271.6 293.1 L-271.6 298.3 L-271.6 299.7 L-272.8 304.0 L-273.1 308.8 L-271.9 312.5 L-270.6 314.5 L-268.9 317.7 L-266.7 319.1 L-264.7 320.5 L-261.2 320.0 L-258.3 319.4 L-256.3 318.2 L-255.1 316.0 L-254.8 313.1 L-253.1 311.7 L-250.1 310.8 L-246.9 310.8 L-245.9 312.0 L-247.7 316.8 L-248.9 319.7 L-249.4 322.5 L-250.4 327.4 L-248.9 327.1 L-245.9 327.4 L-244.0 326.8 L-239.0 327.4 L-237.0 329.7 L-237.5 332.5 L-238.3 338.2 L-238.0 341.4 L-236.5 343.9 L-234.6 345.9 L-231.6 347.4 L-228.9 345.7 L-222.7 347.7 L-221.2 349.7 L-221.7 351.1 L-224.0 351.9 L-224.7 351.1 L-225.4 348.2 L-227.9 347.1 L-230.1 349.1 L-229.6 351.4 L-231.4 351.9 L-233.3 350.8 L-234.8 349.1 L-236.3 349.7 L-236.5 348.8 L-238.3 348.2 L-239.5 345.7 L-240.7 344.2 L-241.7 345.1 L-243.5 343.4 L-243.7 340.5 L-245.2 338.8 L-246.9 336.8 L-247.9 335.4 L-248.9 334.8 L-252.6 334.0 L-256.3 332.8 L-260.0 330.8 L-263.7 326.8 L-266.7 326.2 L-269.9 327.7 L-274.8 326.0 L-278.3 324.5 L-284.0 321.4 L-287.2 320.2 L-289.1 318.2 L-292.6 314.2 L-291.6 311.1 L-294.3 306.3 L-298.3 302.0 L-301.5 299.7 L-302.7 296.3 L-305.4 292.8 L-308.7 289.7 L-310.1 286.3 L-311.9 283.1 L-315.1 281.7 L-315.1 282.6 L-314.3 285.4 L-312.1 288.8 L-310.6 291.1 L-308.9 294.3 L-308.2 295.4 L-306.4 298.3 L-305.2 301.1 L-304.0 303.4 L-302.0 306.0 L-303.2 307.1 L-305.7 304.0 L-308.4 301.7 L-308.9 298.3 L-311.4 296.3 L-313.1 295.4 L-315.6 293.1 L-313.6 292.0 L-315.6 288.5 L-317.8 285.7 L-319.5 281.7 L-320.8 279.4 L-321.2 278.3 L-324.0 276.0 L-327.2 274.3 L-329.2 274.0 L-331.1 270.6 L-332.6 268.0 L-334.1 264.6 L-337.1 261.4 L-337.3 259.7 L-338.8 257.1 L-338.3 253.1 L-339.0 250.3 L-338.3 248.3 L-337.8 244.0 L-337.8 240.3 L-338.3 238.3 L-339.5 234.3 L-340.3 233.4 L-342.7 232.0 L-346.4 229.7 L-348.7 227.4 L-348.2 226.3 L-353.1 225.2Z M-178.0 236.6 L-175.8 232.6 L-174.3 229.7 L-172.3 226.9 L-168.6 225.2 L-169.6 227.7 L-171.1 229.7 L-168.6 230.0 L-166.2 231.2 L-163.7 231.7 L-162.5 233.7 L-163.2 235.7 L-161.7 236.6 L-162.5 239.1 L-164.9 238.9 L-165.4 237.1 L-168.6 238.6 L-169.9 236.9 L-173.6 236.6Z M-190.9 230.0 L-187.2 230.3 L-183.9 232.3 L-188.4 231.7Z M-241.2 310.0 L-239.0 307.7 L-236.5 306.8 L-235.1 306.3 L-231.6 306.5 L-229.1 307.1 L-226.7 308.5 L-223.0 310.2 L-219.3 312.0 L-216.8 313.4 L-214.8 314.8 L-216.8 315.7 L-218.8 315.4 L-223.5 315.7 L-222.2 313.7 L-224.9 313.1 L-225.4 311.1 L-229.1 310.5 L-231.6 309.4 L-234.1 308.5 L-236.5 309.1 L-239.0 310.2Z M-215.6 320.2 L-212.8 320.2 L-211.4 319.7 L-210.4 319.4 L-211.4 317.7 L-212.8 316.2 L-210.6 315.7 L-208.6 316.0 L-204.4 316.0 L-202.5 317.4 L-200.5 319.4 L-201.2 320.5 L-204.4 320.2 L-206.9 321.4 L-208.4 322.0 L-209.4 320.5 L-211.9 320.8 L-214.3 320.8Z M-224.9 320.2 L-221.7 319.7 L-219.8 321.1 L-221.7 321.7 L-224.2 321.4Z M-197.5 319.7 L-193.6 320.0 L-194.1 321.1 L-197.5 321.1Z M-224.9 301.1 L-223.5 300.8 L-223.2 303.7 L-224.7 303.1Z M-184.4 341.9 L-182.0 341.7 L-182.2 343.7 L-184.4 343.7Z M-224.0 351.9 L-222.7 347.7 L-221.2 349.7 L-220.0 346.8 L-218.0 342.8 L-216.3 341.1 L-214.8 340.2 L-211.6 339.4 L-208.6 337.1 L-207.7 338.8 L-208.4 341.1 L-204.9 338.2 L-204.0 339.7 L-200.7 340.5 L-199.5 342.5 L-196.8 342.2 L-194.6 343.1 L-191.4 343.4 L-190.1 342.5 L-184.7 341.9 L-186.7 342.8 L-182.2 345.4 L-181.0 348.2 L-175.3 353.1 L-172.3 355.4 L-167.9 355.7 L-160.7 358.5 L-158.8 360.2 L-156.8 365.4 L-155.1 367.4 L-155.1 371.1 L-151.4 373.1 L-150.1 374.5 L-146.4 375.4 L-141.0 379.6 L-137.8 379.4 L-134.8 380.8 L-130.4 380.5 L-126.7 383.1 L-123.7 385.6 L-119.2 387.1 L-118.5 389.1 L-117.5 392.8 L-117.8 395.6 L-119.7 400.2 L-123.0 403.6 L-126.7 409.6 L-127.9 414.8 L-127.9 419.3 L-128.4 423.0 L-129.6 425.3 L-131.1 430.5 L-132.8 435.3 L-135.3 437.9 L-138.3 438.2 L-141.5 438.7 L-145.9 441.0 L-149.9 443.9 L-151.4 445.6 L-151.4 451.3 L-151.8 453.9 L-154.3 456.2 L-155.8 459.6 L-160.2 464.4 L-163.5 468.7 L-167.2 472.2 L-170.4 472.2 L-174.3 471.0 L-175.8 471.3 L-173.1 473.3 L-171.6 476.2 L-173.6 481.0 L-176.5 482.7 L-185.2 483.6 L-185.2 486.7 L-186.7 489.6 L-192.1 489.0 L-192.1 492.4 L-188.6 493.9 L-190.9 495.3 L-192.1 496.1 L-193.3 499.6 L-198.3 503.6 L-198.3 505.3 L-194.3 507.0 L-194.3 509.0 L-198.8 513.3 L-200.5 515.6 L-202.0 519.8 L-200.5 521.8 L-201.0 523.0 L-198.8 526.1 L-192.6 528.7 L-197.0 531.0 L-202.0 530.4 L-206.9 528.1 L-210.6 525.3 L-214.3 522.4 L-216.8 518.1 L-218.0 512.4 L-218.0 506.7 L-218.3 505.9 L-215.1 502.4 L-215.1 498.1 L-214.8 495.3 L-214.3 491.9 L-213.6 488.2 L-212.8 486.2 L-213.1 482.4 L-212.1 477.6 L-210.9 473.9 L-208.4 466.7 L-208.1 462.4 L-207.7 457.9 L-208.1 453.9 L-206.4 449.9 L-205.9 445.3 L-205.4 439.9 L-204.9 430.2 L-205.2 425.3 L-207.9 422.8 L-209.4 421.0 L-214.3 418.2 L-217.3 416.2 L-219.8 411.6 L-222.0 406.8 L-223.5 403.9 L-225.7 398.5 L-226.7 395.6 L-228.9 392.2 L-231.9 389.3 L-231.9 387.1 L-232.3 385.6 L-230.4 382.5 L-229.1 380.2 L-231.4 379.1 L-231.6 378.8 L-230.9 375.4 L-230.1 373.4 L-228.4 369.6 L-226.2 367.4 L-225.2 365.1 L-222.2 361.4 L-223.0 358.2 L-222.7 354.8Z M-182.2 519.0 L-174.8 519.3 L-176.0 521.6 L-181.0 521.6Z M-113.1 133.8 L-93.3 134.9 L-81.0 138.3 L-60.0 140.1 L-73.6 144.1 L-78.5 149.8 L-77.3 154.1 L-81.0 158.3 L-79.7 161.2 L-85.9 164.0 L-85.9 166.9 L-85.9 171.2 L-88.4 172.6 L-95.8 176.9 L-105.7 178.0 L-113.1 181.2 L-120.5 184.6 L-124.4 185.2 L-130.4 186.9 L-132.8 191.2 L-136.5 195.5 L-137.8 199.7 L-140.2 201.7 L-145.2 198.9 L-150.1 198.3 L-153.8 195.5 L-157.5 191.2 L-159.3 189.2 L-161.2 185.5 L-164.2 181.2 L-163.7 176.9 L-157.5 174.6 L-166.2 172.6 L-166.2 169.8 L-168.6 166.9 L-169.9 162.6 L-174.8 158.3 L-184.7 155.5 L-194.6 155.5 L-202.0 154.1 L-206.9 151.8 L-211.9 149.2 L-204.4 146.9 L-194.6 145.5 L-192.1 143.5 L-187.2 140.6 L-174.8 137.8 L-155.1 137.2 L-142.7 136.1 L-130.4 134.3Z M-402.0 591.8 L-395.6 588.7 L-383.0 587.5 L-368.2 585.0 L-358.0 586.4 L-345.4 587.5 L-338.0 582.7 L-328.2 582.7 L-318.3 585.0 L-308.2 586.4 L-295.6 585.0 L-283.2 581.2 L-280.8 578.1 L-268.2 577.5 L-266.9 580.1 L-253.1 580.7 L-248.9 580.7 L-237.0 580.4 L-224.9 579.2 L-220.2 575.8 L-220.7 572.7 L-214.1 570.7 L-208.6 569.0 L-206.9 571.5 L-205.2 574.4 L-201.5 575.2 L-202.0 571.5 L-204.2 568.4 L-201.0 567.8 L-199.5 568.7 L-197.3 565.2 L-193.6 561.5 L-190.1 558.1 L-186.4 555.5 L-181.7 553.0 L-176.8 551.8 L-172.1 552.4 L-167.2 551.8 L-166.7 553.3 L-172.1 554.1 L-176.8 554.4 L-181.0 555.3 L-183.9 558.1 L-187.4 560.4 L-188.6 564.1 L-185.2 569.0 L-182.2 575.0 L-181.5 581.0 L-183.9 585.8 L-188.9 589.2 L-194.8 591.2 L-181.7 592.4 L-170.9 593.5 L-158.8 595.8 L-146.9 597.5 L-128.9 597.8 L-127.4 596.9 L-117.5 592.9 L-105.7 590.1 L-94.8 587.5 L-82.5 585.0 L-69.9 581.2 L-62.5 577.5 L-57.3 575.0 L-52.3 576.4 L-44.9 573.8 L-37.3 573.0 L-31.6 574.7 L-24.9 573.0 L-14.8 572.1 L0.3 572.1 L15.3 572.7 L30.4 572.1 L42.5 571.0 L49.9 569.0 L54.8 570.4 L62.3 572.4 L67.2 569.5 L79.5 566.1 L91.9 562.4 L99.3 560.7 L104.2 561.0 L109.2 563.3 L116.6 565.2 L128.9 565.8 L136.3 566.1 L141.3 568.1 L146.2 571.0 L153.6 571.0 L161.0 568.1 L166.0 566.1 L178.3 563.3 L190.7 563.3 L203.0 561.8 L215.4 560.4 L227.7 561.8 L240.1 561.0 L252.4 562.4 L264.8 563.3 L277.1 561.8 L289.4 561.5 L301.8 561.0 L314.1 563.0 L326.5 564.4 L338.8 567.8 L351.2 569.5 L363.5 572.4 L375.9 574.4 L390.1 576.3 L383.9 580.1 L373.8 585.1 L370.1 590.1 L376.3 592.6 L373.8 595.1 L366.3 598.9 L363.8 602.6 L367.6 606.4 L385.1 608.9 L405.2 611.4 L430.2 613.9 L455.3 615.9 L475.3 615.6 L486.6 615.1 L476.5 612.6 L475.3 605.1 L480.3 602.6 L470.3 598.9 L465.3 593.8 L466.5 592.1 L480.3 592.6 L486.6 591.3 L487.0 591.8 L489.5 591.8 L489.5 632.4 L-404.5 632.4 L-404.5 591.8Z M452.0 597.6 L456.5 596.6 L461.5 597.6 L460.8 600.6 L454.0 600.6Z M-417.1 316.2 L-416.3 314.5 L-414.1 316.0 L-414.3 317.4 L-416.8 318.2Z M-418.5 312.5 L-417.1 312.5 L-416.8 313.7 L-418.5 313.7Z M-422.2 310.5 L-421.3 310.5 L-421.0 311.7 L-422.5 311.7Z M-426.2 309.1 L-425.0 309.1 L-425.0 310.0 L-426.2 310.0Z M138.1 512.4 L140.3 511.6 L142.5 513.0 L141.8 514.4 L139.3 514.1Z M104.7 432.2 L106.2 432.2 L106.2 433.6 L104.7 433.6Z M109.9 429.6 L111.2 429.6 L111.2 431.0 L109.9 431.0Z M-183.5 551.3 L-177.3 549.3 L-173.6 549.0 L-174.8 550.1 L-181.0 552.1Z M100.0 336.5 L103.0 336.2 L102.8 337.4 L100.3 337.4Z M379.6 196.6 L379.6 198.9 L376.4 200.3 L373.4 202.9 L371.9 205.2 L371.2 208.9 L368.2 211.2 L365.8 215.7 L362.0 218.9 L358.3 222.6 L355.1 226.6 L352.4 228.0 L353.2 222.6 L351.7 217.2 L351.4 212.9 L354.6 207.4 L360.6 203.7 L364.3 201.2 L368.0 198.9 L371.9 196.6Z M327.7 247.4 L330.2 245.4 L335.9 242.3 L335.4 243.7 L330.9 246.6Z M337.6 242.0 L340.3 240.3 L339.8 241.4Z M351.9 229.7 L354.1 227.4 L353.2 229.2Z M345.1 237.3 L346.9 237.3 L346.9 238.7 L345.1 238.7Z M-439.0 216.9 L-434.8 215.7 L-434.8 216.6 L-438.5 217.4Z M-444.7 218.3 L-441.8 218.3 L-441.8 220.0 L-444.7 220.0Z M-448.4 219.6 L-446.0 219.6 L-446.0 221.0 L-448.4 221.0Z M-463.2 222.9 L-460.8 222.9 L-460.8 224.0 L-463.2 224.0Z M-468.9 223.7 L-466.9 223.7 L-466.9 224.9 L-468.9 224.9Z M394.6 220.9 L396.6 220.9 L396.6 222.0 L394.6 222.0Z M-455.8 191.2 L-451.4 190.6 L-448.4 191.7 L-451.4 192.3 L-455.1 192.0Z M-444.0 200.0 L-441.0 200.0 L-441.0 201.7 L-444.0 201.7Z M-413.1 208.9 L-409.4 206.9 L-407.4 208.0 L-410.6 210.0Z M409.7 169.2 L412.9 168.3 L416.6 168.9 L418.6 169.8 L414.2 170.0 L410.4 170.0Z M-73.2 291.0 L-71.5 291.0 L-71.5 292.4 L-73.2 292.4Z M-70.8 291.8 L-69.4 291.8 L-69.4 293.3 L-70.8 293.3Z M-66.8 290.0 L-65.5 290.0 L-65.5 292.3 L-66.8 292.3Z M-90.6 328.7 L-89.1 328.7 L-89.1 330.1 L-90.6 330.1Z M406.2 422.2 L409.5 422.2 L409.5 424.5 L406.2 424.5Z M410.0 419.3 L412.4 419.3 L412.4 420.5 L410.0 420.5Z M380.1 415.0 L381.6 415.0 L381.6 417.9 L380.1 417.9Z M383.4 422.2 L384.6 422.2 L384.6 423.9 L383.4 423.9Z M358.1 392.5 L362.8 395.3 L363.0 396.5 L357.4 393.3 L354.9 391.6Z M364.3 399.3 L365.5 400.8 L362.3 399.1Z M366.0 396.8 L366.7 399.6 L365.3 396.5Z M350.2 388.2 L353.4 391.9 L351.9 390.5Z M-458.3 410.8 L-455.8 410.8 L-455.8 411.9 L-458.3 411.9Z M-401.3 422.2 L-399.8 422.2 L-399.8 423.3 L-401.3 423.3Z M-257.5 373.2 L-255.6 373.2 L-255.6 375.8 L-257.5 375.8Z M-125.4 526.7 L-120.5 527.6 L-120.0 529.0 L-124.2 527.6Z M-49.9 194.7 L-47.9 194.7 L-47.9 196.2 L-49.9 196.2Z M-35.4 199.3 L-34.2 199.3 L-34.2 201.3 L-35.4 201.3Z M-53.1 169.3 L-51.1 169.3 L-51.1 170.2 L-53.1 170.2Z M14.5 159.6 L16.2 159.6 L16.2 160.5 L14.5 160.5Z M13.4 209.7 L15.3 207.2 L14.8 208.9Z M-25.3 258.7 L-23.1 258.7 L-23.1 260.1 L-25.3 260.1Z M75.0 405.1 L76.2 405.1 L76.2 406.8 L75.0 406.8Z M197.3 334.0 L198.1 334.8 L197.8 339.4 L196.8 339.1Z M283.8 296.0 L285.2 296.0 L285.2 297.7 L283.8 297.7Z M-10.7 361.5 L-9.5 361.5 L-9.5 363.5 L-10.7 363.5Z M65.2 388.8 L66.2 388.8 L66.2 391.1 L65.2 391.1Z"/><use href="#land" x="889"/><path fill="#fff" d="M566.5 158.2 L572.1 159.3 L575.1 160.1 L579.1 159.8 L582.1 158.8 L585.1 159.3 L590.1 159.0 L594.1 158.0 L595.6 156.5 L599.6 155.5 L601.1 158.5 L599.6 161.3 L598.1 162.3 L593.1 162.3 L588.1 163.3 L583.1 163.9 L577.1 164.1 L572.1 163.3 L569.0 161.6 L565.0 160.3 L560.0 159.7 L554.0 159.9 L549.5 161.9 L548.0 160.1 L551.0 157.5 L557.0 157.2 L562.0 156.8Z M561.0 166.9 L564.0 166.3 L567.0 169.3 L570.6 172.3 L575.1 174.7 L571.6 175.3 L567.0 173.6 L563.5 170.6Z M574.3 176.3 L580.1 175.9 L589.1 176.9 L589.1 178.5 L580.1 177.9 L574.8 178.3Z M615.1 160.1 L619.1 159.5 L622.7 161.3 L625.2 163.6 L622.2 165.1 L618.1 164.1 L615.6 162.6Z M608.1 168.6 L611.1 168.1 L615.6 172.9 L611.1 176.9 L609.1 175.1 L611.6 172.9Z M622.2 179.1 L625.2 175.6 L628.7 179.1Z M634.5 175.1 L630.2 170.6 L634.5 166.1Z"/></g>
<path d="M116.5 115 V629 M190.5 115 V629 M264.5 115 V629 M338.5 115 V629 M412.5 115 V629 M486.5 115 V629 M560.5 115 V629 M634.5 115 V629 M708.5 115 V629 M782.5 115 V629 M856.5 115 V629 M42 201.5 H931 M42 286.5 H931 M42 458.5 H931 M42 543.5 H931" stroke="#adadad" stroke-width="1" fill="none" shape-rendering="crispEdges"/>
<path d="M42 372.5 H931" stroke="#000" stroke-width="1" shape-rendering="crispEdges"/>
<rect x="42.5" y="115.5" width="889" height="514" fill="none" stroke="#000" stroke-width="1" shape-rendering="crispEdges"/>
</svg>
<div id="txt" style="position:absolute;left:0;top:0;width:998px;height:760px;will-change:transform">
<div class="t" style="left:0;width:970px;text-align:center;top:13px;font-size:18.25px;font-weight:bold">Stratocumulus</div>
<div class="t" style="left:0;width:972px;text-align:center;top:37px;font-size:15px;font-weight:bold">Frequency of Occurrence (%)</div>
<div class="t" style="left:45px;top:89px;font-size:12px;letter-spacing:.35px">November (1954 - 1997)</div>
<div class="t" style="right:71px;top:89px;font-size:12px;letter-spacing:.5px">Ship Observations Only</div>
<div class="t" style="left:954px;top:87.2px;font-size:9.3px;line-height:12.5px;letter-spacing:.1px"><span style="margin-left:6px">ZONAL</span><br>AVERAGE</div>
<div class="ax" style="right:969px;top:109px">90°N</div>
<div class="ax" style="right:969px;top:195px">60°N</div>
<div class="ax" style="right:969px;top:280px">30°N</div>
<div class="ax" style="right:969px;top:366px">0°</div>
<div class="ax" style="right:969px;top:452px">30°S</div>
<div class="ax" style="right:969px;top:537px">60°S</div>
<div class="ax" style="right:969px;top:623px">90°S</div>
<div class="ax" style="left:45.0px;width:80px;margin-left:-40px;text-align:center;top:645px">30°E</div>
<div class="ax" style="left:118.3px;width:80px;margin-left:-40px;text-align:center;top:645px">60°E</div>
<div class="ax" style="left:191.7px;width:80px;margin-left:-40px;text-align:center;top:645px">90°E</div>
<div class="ax" style="left:265.0px;width:80px;margin-left:-40px;text-align:center;top:645px">120°E</div>
<div class="ax" style="left:338.3px;width:80px;margin-left:-40px;text-align:center;top:645px">150°E</div>
<div class="ax" style="left:411.6px;width:80px;margin-left:-40px;text-align:center;top:645px">180°</div>
<div class="ax" style="left:485.0px;width:80px;margin-left:-40px;text-align:center;top:645px">150°W</div>
<div class="ax" style="left:558.3px;width:80px;margin-left:-40px;text-align:center;top:645px">120°W</div>
<div class="ax" style="left:631.6px;width:80px;margin-left:-40px;text-align:center;top:645px">90°W</div>
<div class="ax" style="left:705.0px;width:80px;margin-left:-40px;text-align:center;top:645px">60°W</div>
<div class="ax" style="left:778.3px;width:80px;margin-left:-40px;text-align:center;top:645px">30°W</div>
<div class="ax" style="left:851.6px;width:80px;margin-left:-40px;text-align:center;top:645px">0°</div>
<div class="ax" style="left:925.0px;width:80px;margin-left:-40px;text-align:center;top:645px">30°E</div>
<div class="t" style="left:370px;top:675.5px;font-size:13.33px">GLOBAL AVERAGE (OCEAN)&nbsp;&nbsp; 31.6 %</div>
<div class="t" style="left:243px;top:709px;font-size:13.33px">(File name = 19_OMMF.11.low, MGRP = 19104, TYPE = 13, PCODE = 2, SN = 11)</div>
<div class="n" style="left:53.5px;top:239.0px">31</div>
<div class="n" style="left:78.2px;top:239.0px">30</div>
<div class="n" style="left:102.9px;top:239.0px">26</div>
<div class="n" style="left:275.8px;top:239.0px">24</div>
<div class="n" style="left:300.5px;top:239.0px">24</div>
<div class="n" style="left:325.2px;top:239.0px">35</div>
<div class="n" style="left:349.9px;top:239.0px">44</div>
<div class="n" style="left:374.6px;top:239.0px">43</div>
<div class="n" style="left:399.3px;top:239.0px">40</div>
<div class="n" style="left:424.0px;top:239.0px">39</div>
<div class="n" style="left:448.7px;top:239.0px">38</div>
<div class="n" style="left:473.4px;top:239.0px">37</div>
<div class="n" style="left:498.0px;top:239.0px">36</div>
<div class="n" style="left:522.7px;top:239.0px">41</div>
<div class="n" style="left:547.4px;top:239.0px">34</div>
<div class="n" style="left:670.9px;top:239.0px">30</div>
<div class="n" style="left:695.6px;top:239.0px">36</div>
<div class="n" style="left:720.3px;top:239.0px">38</div>
<div class="n" style="left:745.0px;top:239.0px">39</div>
<div class="n" style="left:769.7px;top:239.0px">37</div>
<div class="n" style="left:794.4px;top:239.0px">39</div>
<div class="n" style="left:819.1px;top:239.0px">41</div>
<div class="n" style="left:843.8px;top:239.0px">32</div>
<div class="n" style="left:868.5px;top:239.0px">25</div>
<div class="n" style="left:893.2px;top:239.0px">31</div>
<div class="n" style="left:917.9px;top:239.0px">34</div>
<div class="n" style="left:53.5px;top:267.0px">16</div>
<div class="n" style="left:102.9px;top:267.0px">22</div>
<div class="n" style="left:251.1px;top:267.0px">21</div>
<div class="n" style="left:275.8px;top:267.0px">26</div>
<div class="n" style="left:300.5px;top:267.0px">27</div>
<div class="n" style="left:325.2px;top:267.0px">35</div>
<div class="n" style="left:349.9px;top:267.0px">39</div>
<div class="n" style="left:374.6px;top:267.0px">39</div>
<div class="n" style="left:399.3px;top:267.0px">41</div>
<div class="n" style="left:424.0px;top:267.0px">41</div>
<div class="n" style="left:448.7px;top:267.0px">40</div>
<div class="n" style="left:473.4px;top:267.0px">40</div>
<div class="n" style="left:498.0px;top:267.0px">42</div>
<div class="n" style="left:522.7px;top:267.0px">46</div>
<div class="n" style="left:547.4px;top:267.0px">35</div>
<div class="n" style="left:572.1px;top:267.0px">25</div>
<div class="n" style="left:646.2px;top:267.0px">24</div>
<div class="n" style="left:670.9px;top:267.0px">30</div>
<div class="n" style="left:695.6px;top:267.0px">32</div>
<div class="n" style="left:720.3px;top:267.0px">30</div>
<div class="n" style="left:745.0px;top:267.0px">29</div>
<div class="n" style="left:769.7px;top:267.0px">31</div>
<div class="n" style="left:794.4px;top:267.0px">35</div>
<div class="n" style="left:819.1px;top:267.0px">32</div>
<div class="n" style="left:843.8px;top:267.0px">24</div>
<div class="n" style="left:868.5px;top:267.0px">24</div>
<div class="n" style="left:893.2px;top:267.0px">22</div>
<div class="n" style="left:917.9px;top:267.0px">20</div>
<div class="n" style="left:53.5px;top:296.0px">6</div>
<div class="n" style="left:78.2px;top:296.0px">13</div>
<div class="n" style="left:102.9px;top:296.0px">5</div>
<div class="n" style="left:127.6px;top:296.0px">5</div>
<div class="n" style="left:152.3px;top:296.0px">8</div>
<div class="n" style="left:177.0px;top:296.0px">18</div>
<div class="n" style="left:201.7px;top:296.0px">12</div>
<div class="n" style="left:226.4px;top:296.0px">25</div>
<div class="n" style="left:251.1px;top:296.0px">34</div>
<div class="n" style="left:275.8px;top:296.0px">34</div>
<div class="n" style="left:300.5px;top:296.0px">33</div>
<div class="n" style="left:325.2px;top:296.0px">26</div>
<div class="n" style="left:349.9px;top:296.0px">26</div>
<div class="n" style="left:374.6px;top:296.0px">25</div>
<div class="n" style="left:399.3px;top:296.0px">28</div>
<div class="n" style="left:424.0px;top:296.0px">28</div>
<div class="n" style="left:448.7px;top:296.0px">25</div>
<div class="n" style="left:473.4px;top:296.0px">26</div>
<div class="n" style="left:498.0px;top:296.0px">33</div>
<div class="n" style="left:522.7px;top:296.0px">46</div>
<div class="n" style="left:547.4px;top:296.0px">47</div>
<div class="n" style="left:572.1px;top:296.0px">25</div>
<div class="n" style="left:596.8px;top:296.0px">18</div>
<div class="n" style="left:621.5px;top:296.0px">25</div>
<div class="n" style="left:646.2px;top:296.0px">24</div>
<div class="n" style="left:670.9px;top:296.0px">22</div>
<div class="n" style="left:695.6px;top:296.0px">20</div>
<div class="n" style="left:720.3px;top:296.0px">19</div>
<div class="n" style="left:745.0px;top:296.0px">19</div>
<div class="n" style="left:769.7px;top:296.0px">21</div>
<div class="n" style="left:794.4px;top:296.0px">23</div>
<div class="n" style="left:819.1px;top:296.0px">16</div>
<div class="n" style="left:53.5px;top:324.0px">6</div>
<div class="n" style="left:78.2px;top:324.0px">5</div>
<div class="n" style="left:102.9px;top:324.0px">9</div>
<div class="n" style="left:127.6px;top:324.0px">10</div>
<div class="n" style="left:152.3px;top:324.0px">14</div>
<div class="n" style="left:177.0px;top:324.0px">18</div>
<div class="n" style="left:201.7px;top:324.0px">18</div>
<div class="n" style="left:226.4px;top:324.0px">25</div>
<div class="n" style="left:251.1px;top:324.0px">25</div>
<div class="n" style="left:275.8px;top:324.0px">25</div>
<div class="n" style="left:300.5px;top:324.0px">21</div>
<div class="n" style="left:325.2px;top:324.0px">17</div>
<div class="n" style="left:349.9px;top:324.0px">16</div>
<div class="n" style="left:374.6px;top:324.0px">17</div>
<div class="n" style="left:399.3px;top:324.0px">20</div>
<div class="n" style="left:424.0px;top:324.0px">21</div>
<div class="n" style="left:448.7px;top:324.0px">21</div>
<div class="n" style="left:473.4px;top:324.0px">22</div>
<div class="n" style="left:498.0px;top:324.0px">28</div>
<div class="n" style="left:522.7px;top:324.0px">36</div>
<div class="n" style="left:547.4px;top:324.0px">41</div>
<div class="n" style="left:572.1px;top:324.0px">27</div>
<div class="n" style="left:596.8px;top:324.0px">14</div>
<div class="n" style="left:621.5px;top:324.0px">15</div>
<div class="n" style="left:646.2px;top:324.0px">20</div>
<div class="n" style="left:670.9px;top:324.0px">16</div>
<div class="n" style="left:695.6px;top:324.0px">13</div>
<div class="n" style="left:720.3px;top:324.0px">15</div>
<div class="n" style="left:745.0px;top:324.0px">17</div>
<div class="n" style="left:769.7px;top:324.0px">21</div>
<div class="n" style="left:794.4px;top:324.0px">20</div>
<div class="n" style="left:819.1px;top:324.0px">10</div>
<div class="n" style="left:78.2px;top:353.0px">12</div>
<div class="n" style="left:102.9px;top:353.0px">11</div>
<div class="n" style="left:127.6px;top:353.0px">12</div>
<div class="n" style="left:152.3px;top:353.0px">19</div>
<div class="n" style="left:177.0px;top:353.0px">20</div>
<div class="n" style="left:201.7px;top:353.0px">21</div>
<div class="n" style="left:226.4px;top:353.0px">24</div>
<div class="n" style="left:251.1px;top:353.0px">24</div>
<div class="n" style="left:275.8px;top:353.0px">16</div>
<div class="n" style="left:300.5px;top:353.0px">15</div>
<div class="n" style="left:325.2px;top:353.0px">21</div>
<div class="n" style="left:349.9px;top:353.0px">18</div>
<div class="n" style="left:374.6px;top:353.0px">20</div>
<div class="n" style="left:399.3px;top:353.0px">21</div>
<div class="n" style="left:424.0px;top:353.0px">21</div>
<div class="n" style="left:448.7px;top:353.0px">19</div>
<div class="n" style="left:473.4px;top:353.0px">20</div>
<div class="n" style="left:498.0px;top:353.0px">24</div>
<div class="n" style="left:522.7px;top:353.0px">27</div>
<div class="n" style="left:547.4px;top:353.0px">32</div>
<div class="n" style="left:572.1px;top:353.0px">34</div>
<div class="n" style="left:596.8px;top:353.0px">33</div>
<div class="n" style="left:621.5px;top:353.0px">38</div>
<div class="n" style="left:646.2px;top:353.0px">32</div>
<div class="n" style="left:670.9px;top:353.0px">31</div>
<div class="n" style="left:720.3px;top:353.0px">16</div>
<div class="n" style="left:745.0px;top:353.0px">18</div>
<div class="n" style="left:769.7px;top:353.0px">20</div>
<div class="n" style="left:794.4px;top:353.0px">22</div>
<div class="n" style="left:819.1px;top:353.0px">22</div>
<div class="n" style="left:843.8px;top:353.0px">23</div>
<div class="n" style="left:868.5px;top:353.0px">22</div>
<div class="n" style="left:53.5px;top:381.0px">6</div>
<div class="n" style="left:78.2px;top:381.0px">10</div>
<div class="n" style="left:102.9px;top:381.0px">13</div>
<div class="n" style="left:127.6px;top:381.0px">17</div>
<div class="n" style="left:152.3px;top:381.0px">18</div>
<div class="n" style="left:177.0px;top:381.0px">19</div>
<div class="n" style="left:201.7px;top:381.0px">22</div>
<div class="n" style="left:226.4px;top:381.0px">21</div>
<div class="n" style="left:251.1px;top:381.0px">15</div>
<div class="n" style="left:275.8px;top:381.0px">13</div>
<div class="n" style="left:300.5px;top:381.0px">13</div>
<div class="n" style="left:325.2px;top:381.0px">19</div>
<div class="n" style="left:349.9px;top:381.0px">19</div>
<div class="n" style="left:374.6px;top:381.0px">19</div>
<div class="n" style="left:399.3px;top:381.0px">16</div>
<div class="n" style="left:424.0px;top:381.0px">17</div>
<div class="n" style="left:448.7px;top:381.0px">14</div>
<div class="n" style="left:473.4px;top:381.0px">12</div>
<div class="n" style="left:498.0px;top:381.0px">13</div>
<div class="n" style="left:522.7px;top:381.0px">10</div>
<div class="n" style="left:547.4px;top:381.0px">9</div>
<div class="n" style="left:572.1px;top:381.0px">21</div>
<div class="n" style="left:596.8px;top:381.0px">39</div>
<div class="n" style="left:621.5px;top:381.0px">52</div>
<div class="n" style="left:646.2px;top:381.0px">48</div>
<div class="n" style="left:670.9px;top:381.0px">38</div>
<div class="n" style="left:745.0px;top:381.0px">12</div>
<div class="n" style="left:769.7px;top:381.0px">12</div>
<div class="n" style="left:794.4px;top:381.0px">20</div>
<div class="n" style="left:819.1px;top:381.0px">43</div>
<div class="n" style="left:843.8px;top:381.0px">51</div>
<div class="n" style="left:868.5px;top:381.0px">45</div>
<div class="n" style="left:893.2px;top:381.0px">47</div>
<div class="n" style="left:53.5px;top:410.0px">14</div>
<div class="n" style="left:78.2px;top:410.0px">10</div>
<div class="n" style="left:102.9px;top:410.0px">15</div>
<div class="n" style="left:127.6px;top:410.0px">18</div>
<div class="n" style="left:152.3px;top:410.0px">20</div>
<div class="n" style="left:177.0px;top:410.0px">25</div>
<div class="n" style="left:201.7px;top:410.0px">26</div>
<div class="n" style="left:226.4px;top:410.0px">31</div>
<div class="n" style="left:251.1px;top:410.0px">11</div>
<div class="n" style="left:275.8px;top:410.0px">11</div>
<div class="n" style="left:300.5px;top:410.0px">9</div>
<div class="n" style="left:325.2px;top:410.0px">15</div>
<div class="n" style="left:349.9px;top:410.0px">15</div>
<div class="n" style="left:374.6px;top:410.0px">21</div>
<div class="n" style="left:399.3px;top:410.0px">24</div>
<div class="n" style="left:424.0px;top:410.0px">21</div>
<div class="n" style="left:448.7px;top:410.0px">23</div>
<div class="n" style="left:473.4px;top:410.0px">19</div>
<div class="n" style="left:498.0px;top:410.0px">18</div>
<div class="n" style="left:522.7px;top:410.0px">13</div>
<div class="n" style="left:547.4px;top:410.0px">14</div>
<div class="n" style="left:572.1px;top:410.0px">24</div>
<div class="n" style="left:596.8px;top:410.0px">42</div>
<div class="n" style="left:621.5px;top:410.0px">51</div>
<div class="n" style="left:646.2px;top:410.0px">69</div>
<div class="n" style="left:670.9px;top:410.0px">63</div>
<div class="n" style="left:769.7px;top:410.0px">19</div>
<div class="n" style="left:794.4px;top:410.0px">29</div>
<div class="n" style="left:819.1px;top:410.0px">50</div>
<div class="n" style="left:843.8px;top:410.0px">70</div>
<div class="n" style="left:868.5px;top:410.0px">70</div>
<div class="n" style="left:893.2px;top:410.0px">43</div>
<div class="n" style="left:53.5px;top:438.0px">24</div>
<div class="n" style="left:78.2px;top:438.0px">22</div>
<div class="n" style="left:102.9px;top:438.0px">20</div>
<div class="n" style="left:127.6px;top:438.0px">24</div>
<div class="n" style="left:152.3px;top:438.0px">29</div>
<div class="n" style="left:177.0px;top:438.0px">34</div>
<div class="n" style="left:201.7px;top:438.0px">39</div>
<div class="n" style="left:226.4px;top:438.0px">43</div>
<div class="n" style="left:251.1px;top:438.0px">21</div>
<div class="n" style="left:325.2px;top:438.0px">16</div>
<div class="n" style="left:349.9px;top:438.0px">19</div>
<div class="n" style="left:374.6px;top:438.0px">26</div>
<div class="n" style="left:399.3px;top:438.0px">28</div>
<div class="n" style="left:424.0px;top:438.0px">28</div>
<div class="n" style="left:448.7px;top:438.0px">30</div>
<div class="n" style="left:473.4px;top:438.0px">30</div>
<div class="n" style="left:498.0px;top:438.0px">37</div>
<div class="n" style="left:522.7px;top:438.0px">30</div>
<div class="n" style="left:547.4px;top:438.0px">19</div>
<div class="n" style="left:572.1px;top:438.0px">18</div>
<div class="n" style="left:596.8px;top:438.0px">26</div>
<div class="n" style="left:621.5px;top:438.0px">45</div>
<div class="n" style="left:646.2px;top:438.0px">65</div>
<div class="n" style="left:670.9px;top:438.0px">62</div>
<div class="n" style="left:745.0px;top:438.0px">26</div>
<div class="n" style="left:769.7px;top:438.0px">28</div>
<div class="n" style="left:794.4px;top:438.0px">33</div>
<div class="n" style="left:819.1px;top:438.0px">37</div>
<div class="n" style="left:843.8px;top:438.0px">53</div>
<div class="n" style="left:868.5px;top:438.0px">58</div>
<div class="n" style="left:893.2px;top:438.0px">37</div>
<div class="n" style="left:53.5px;top:467.0px">32</div>
<div class="n" style="left:78.2px;top:467.0px">39</div>
<div class="n" style="left:102.9px;top:467.0px">32</div>
<div class="n" style="left:127.6px;top:467.0px">41</div>
<div class="n" style="left:152.3px;top:467.0px">42</div>
<div class="n" style="left:177.0px;top:467.0px">43</div>
<div class="n" style="left:201.7px;top:467.0px">46</div>
<div class="n" style="left:226.4px;top:467.0px">49</div>
<div class="n" style="left:251.1px;top:467.0px">35</div>
<div class="n" style="left:275.8px;top:467.0px">42</div>
<div class="n" style="left:300.5px;top:467.0px">38</div>
<div class="n" style="left:325.2px;top:467.0px">31</div>
<div class="n" style="left:349.9px;top:467.0px">31</div>
<div class="n" style="left:374.6px;top:467.0px">36</div>
<div class="n" style="left:399.3px;top:467.0px">32</div>
<div class="n" style="left:424.0px;top:467.0px">34</div>
<div class="n" style="left:448.7px;top:467.0px">39</div>
<div class="n" style="left:473.4px;top:467.0px">37</div>
<div class="n" style="left:498.0px;top:467.0px">37</div>
<div class="n" style="left:522.7px;top:467.0px">34</div>
<div class="n" style="left:547.4px;top:467.0px">41</div>
<div class="n" style="left:572.1px;top:467.0px">43</div>
<div class="n" style="left:596.8px;top:467.0px">44</div>
<div class="n" style="left:621.5px;top:467.0px">53</div>
<div class="n" style="left:646.2px;top:467.0px">55</div>
<div class="n" style="left:670.9px;top:467.0px">52</div>
<div class="n" style="left:695.6px;top:467.0px">20</div>
<div class="n" style="left:720.3px;top:467.0px">25</div>
<div class="n" style="left:745.0px;top:467.0px">31</div>
<div class="n" style="left:769.7px;top:467.0px">34</div>
<div class="n" style="left:794.4px;top:467.0px">34</div>
<div class="n" style="left:819.1px;top:467.0px">39</div>
<div class="n" style="left:843.8px;top:467.0px">45</div>
<div class="n" style="left:868.5px;top:467.0px">47</div>
<div class="n" style="left:893.2px;top:467.0px">32</div>
<div class="n" style="left:917.9px;top:467.0px">30</div>
<div class="n" style="left:53.5px;top:495.0px">34</div>
<div class="n" style="left:78.2px;top:495.0px">40</div>
<div class="n" style="left:102.9px;top:495.0px">41</div>
<div class="n" style="left:127.6px;top:495.0px">40</div>
<div class="n" style="left:152.3px;top:495.0px">39</div>
<div class="n" style="left:177.0px;top:495.0px">42</div>
<div class="n" style="left:201.7px;top:495.0px">30</div>
<div class="n" style="left:226.4px;top:495.0px">33</div>
<div class="n" style="left:251.1px;top:495.0px">40</div>
<div class="n" style="left:275.8px;top:495.0px">39</div>
<div class="n" style="left:300.5px;top:495.0px">45</div>
<div class="n" style="left:325.2px;top:495.0px">36</div>
<div class="n" style="left:349.9px;top:495.0px">41</div>
<div class="n" style="left:374.6px;top:495.0px">41</div>
<div class="n" style="left:399.3px;top:495.0px">38</div>
<div class="n" style="left:424.0px;top:495.0px">41</div>
<div class="n" style="left:448.7px;top:495.0px">43</div>
<div class="n" style="left:473.4px;top:495.0px">42</div>
<div class="n" style="left:498.0px;top:495.0px">39</div>
<div class="n" style="left:522.7px;top:495.0px">37</div>
<div class="n" style="left:547.4px;top:495.0px">39</div>
<div class="n" style="left:572.1px;top:495.0px">40</div>
<div class="n" style="left:596.8px;top:495.0px">46</div>
<div class="n" style="left:646.2px;top:495.0px">49</div>
<div class="n" style="left:670.9px;top:495.0px">40</div>
<div class="n" style="left:695.6px;top:495.0px">31</div>
<div class="n" style="left:720.3px;top:495.0px">29</div>
<div class="n" style="left:745.0px;top:495.0px">39</div>
<div class="n" style="left:769.7px;top:495.0px">40</div>
<div class="n" style="left:794.4px;top:495.0px">39</div>
<div class="n" style="left:819.1px;top:495.0px">41</div>
<div class="n" style="left:843.8px;top:495.0px">30</div>
<div class="n" style="left:868.5px;top:495.0px">48</div>
<div class="n" style="left:893.2px;top:495.0px">50</div>
<div class="n" style="left:917.9px;top:495.0px">46</div>
<div class="n" style="left:51.0px;top:182.0px">41</div>
<div class="n" style="left:90.6px;top:182.0px">40</div>
<div class="n" style="left:337.5px;top:182.0px">40</div>
<div class="n" style="left:386.9px;top:182.0px">48</div>
<div class="n" style="left:436.3px;top:182.0px">52</div>
<div class="n" style="left:485.7px;top:182.0px">38</div>
<div class="n" style="left:683.3px;top:182.0px">47</div>
<div class="n" style="left:732.6px;top:182.0px">38</div>
<div class="n" style="left:782.0px;top:182.0px">35</div>
<div class="n" style="left:831.4px;top:182.0px">37</div>
<div class="n" style="left:880.8px;top:182.0px">33</div>
<div class="n" style="left:924.3px;top:182.0px">41</div>
<div class="n" style="left:51.0px;top:210.0px">42</div>
<div class="n" style="left:288.1px;top:210.0px">30</div>
<div class="n" style="left:337.5px;top:210.0px">36</div>
<div class="n" style="left:386.9px;top:210.0px">41</div>
<div class="n" style="left:436.3px;top:210.0px">42</div>
<div class="n" style="left:485.7px;top:210.0px">39</div>
<div class="n" style="left:535.1px;top:210.0px">34</div>
<div class="n" style="left:683.3px;top:210.0px">40</div>
<div class="n" style="left:732.6px;top:210.0px">38</div>
<div class="n" style="left:782.0px;top:210.0px">37</div>
<div class="n" style="left:831.4px;top:210.0px">40</div>
<div class="n" style="left:880.8px;top:210.0px">31</div>
<div class="n" style="left:924.3px;top:210.0px">42</div>
<div class="n" style="left:51.0px;top:524.0px">39</div>
<div class="n" style="left:90.6px;top:524.0px">33</div>
<div class="n" style="left:140.0px;top:524.0px">43</div>
<div class="n" style="left:189.4px;top:524.0px">46</div>
<div class="n" style="left:238.8px;top:524.0px">34</div>
<div class="n" style="left:288.1px;top:524.0px">37</div>
<div class="n" style="left:337.5px;top:524.0px">45</div>
<div class="n" style="left:386.9px;top:524.0px">58</div>
<div class="n" style="left:436.3px;top:524.0px">41</div>
<div class="n" style="left:485.7px;top:524.0px">41</div>
<div class="n" style="left:535.1px;top:524.0px">46</div>
<div class="n" style="left:584.5px;top:524.0px">32</div>
<div class="n" style="left:633.9px;top:524.0px">32</div>
<div class="n" style="left:683.3px;top:524.0px">41</div>
<div class="n" style="left:732.6px;top:524.0px">44</div>
<div class="n" style="left:782.0px;top:524.0px">39</div>
<div class="n" style="left:831.4px;top:524.0px">42</div>
<div class="n" style="left:880.8px;top:524.0px">40</div>
<div class="n" style="left:924.3px;top:524.0px">39</div>
<div class="n" style="left:90.6px;top:552.0px">39</div>
<div class="n" style="left:140.0px;top:552.0px">50</div>
<div class="n" style="left:189.4px;top:552.0px">47</div>
<div class="n" style="left:238.8px;top:552.0px">43</div>
<div class="n" style="left:288.1px;top:552.0px">30</div>
<div class="n" style="left:337.5px;top:552.0px">38</div>
<div class="n" style="left:386.9px;top:552.0px">46</div>
<div class="n" style="left:436.3px;top:552.0px">36</div>
<div class="n" style="left:683.3px;top:552.0px">46</div>
<div class="n" style="left:732.6px;top:552.0px">47</div>
<div class="n" style="left:782.0px;top:552.0px">20</div>
<div class="n" style="left:831.4px;top:552.0px">47</div>
<div class="n" style="left:880.8px;top:552.0px">72</div>
<div class="n" style="left:115.3px;top:153.0px">39</div>
<div class="n" style="left:214.1px;top:153.0px">19</div>
<div class="n" style="left:312.8px;top:153.0px">14</div>
<div class="n" style="left:411.6px;top:153.0px">24</div>
<div class="n" style="left:510.4px;top:153.0px">11</div>
<div class="n" style="left:609.2px;top:153.0px">50</div>
<div class="n" style="left:708.0px;top:153.0px">32</div>
<div class="n" style="left:806.7px;top:153.0px">31</div>
<div class="n" style="left:905.5px;top:153.0px">38</div>
<div class="n" style="left:411.6px;top:581.0px">45</div>
<div class="n" style="left:806.7px;top:581.0px">35</div>
<div class="n" style="left:115.3px;top:125.0px">21</div>
<div class="n" style="left:411.6px;top:125.0px">20</div>
<div class="n" style="left:708.0px;top:125.0px">11</div>
<div class="n" style="left:976.6px;top:125.0px;font-size:14px">18</div>
<div class="n" style="left:976.6px;top:153.0px;font-size:14px">27</div>
<div class="n" style="left:976.6px;top:182.0px;font-size:14px">40</div>
<div class="n" style="left:976.6px;top:210.0px;font-size:14px">39</div>
<div class="n" style="left:976.6px;top:239.0px;font-size:14px">38</div>
<div class="n" style="left:976.6px;top:267.0px;font-size:14px">34</div>
<div class="n" style="left:976.6px;top:296.0px;font-size:14px">26</div>
<div class="n" style="left:976.6px;top:324.0px;font-size:14px">20</div>
<div class="n" style="left:976.6px;top:353.0px;font-size:14px">22</div>
<div class="n" style="left:976.6px;top:381.0px;font-size:14px">23</div>
<div class="n" style="left:976.6px;top:409.0px;font-size:14px">29</div>
<div class="n" style="left:976.6px;top:438.0px;font-size:14px">34</div>
<div class="n" style="left:976.6px;top:466.0px;font-size:14px">39</div>
<div class="n" style="left:976.6px;top:495.0px;font-size:14px">40</div>
<div class="n" style="left:976.6px;top:524.0px;font-size:14px">41</div>
<div class="n" style="left:976.6px;top:552.0px;font-size:14px">43</div>
<div class="n" style="left:976.6px;top:581.0px;font-size:14px">41</div>
</div></body></html>
